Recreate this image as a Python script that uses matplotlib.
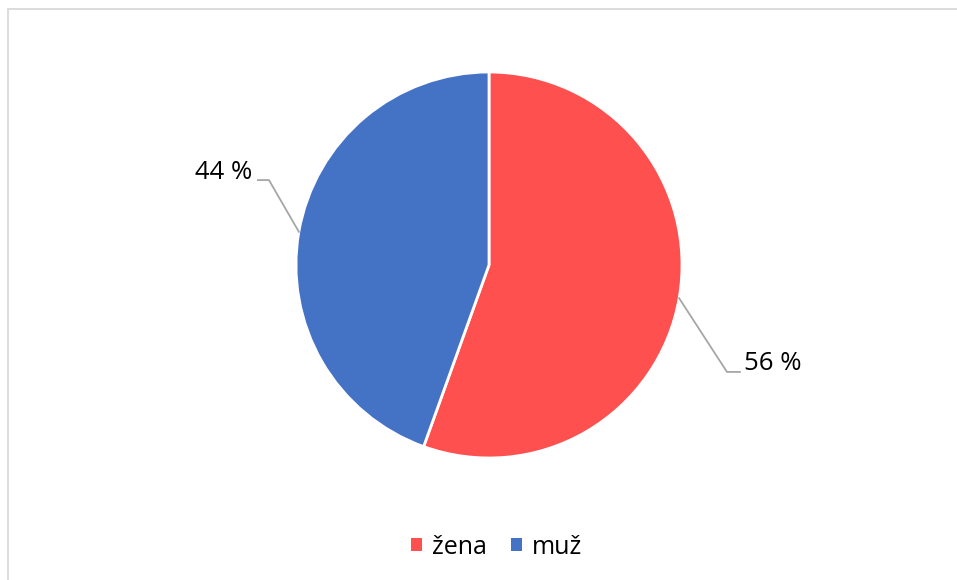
import numpy as np
import matplotlib.pyplot as plt
from matplotlib.patches import Rectangle, Patch

# data
labels = ['žena', 'muž']
values = [55.5, 44.5]
colors = ['#FF5050', '#4472C4']
pct_labels = ['56 %', '44 %']

plt.rcParams['font.family'] = ['Open Sans', 'DejaVu Sans']

W, H = 957, 580
fig = plt.figure(figsize=(W / 100, H / 100), dpi=100)

# grey frame of the chart area (right and bottom edge outside the picture)
fig.patches.append(Rectangle((8 / W, -0.5), 2, 1.5 - 9 / H, transform=fig.transFigure,
                             fill=False, edgecolor='#D9D9D9', linewidth=1.3))

# pie axes: centre (489, 265) px, radius 193 px
cx, cy, r = 489, 265, 193
ax = fig.add_axes([(cx - r) / W, (H - cy - r) / H, 2 * r / W, 2 * r / H])
wedges, _ = ax.pie(values, colors=colors, startangle=90, counterclock=False,
                   wedgeprops=dict(edgecolor='white', linewidth=2))
ax.set_xlim(-1, 1)
ax.set_ylim(-1, 1)
ax.set_aspect('equal')

# data labels with leader lines
elbows = [(1.233, -0.554), (-1.14, 0.44)]
ends = [(1.30, -0.554), (-1.197, 0.44)]
texts = [(1.32, -0.51, 'left'), (-1.225, 0.48, 'right')]
for w, lab, el, en, tx in zip(wedges, pct_labels, elbows, ends, texts):
    ang = np.deg2rad((w.theta1 + w.theta2) / 2)
    p0 = (np.cos(ang), np.sin(ang))
    ax.plot([p0[0], el[0], en[0]], [p0[1], el[1], en[1]], color='#A6A6A6',
            linewidth=1.3, clip_on=False)
    ax.text(tx[0], tx[1], lab, ha=tx[2], va='center', fontsize=18.5, color='black')

# legend
handles = [Patch(facecolor=c, label=l) for c, l in zip(colors, labels)]
fig.legend(handles=handles, loc='center', bbox_to_anchor=(0.519, 1 - 547 / H), ncol=2,
           frameon=False, fontsize=18, handlelength=0.44, handleheight=0.44,
           handletextpad=0.42, columnspacing=0.95)

plt.savefig('out.png', dpi=100)
